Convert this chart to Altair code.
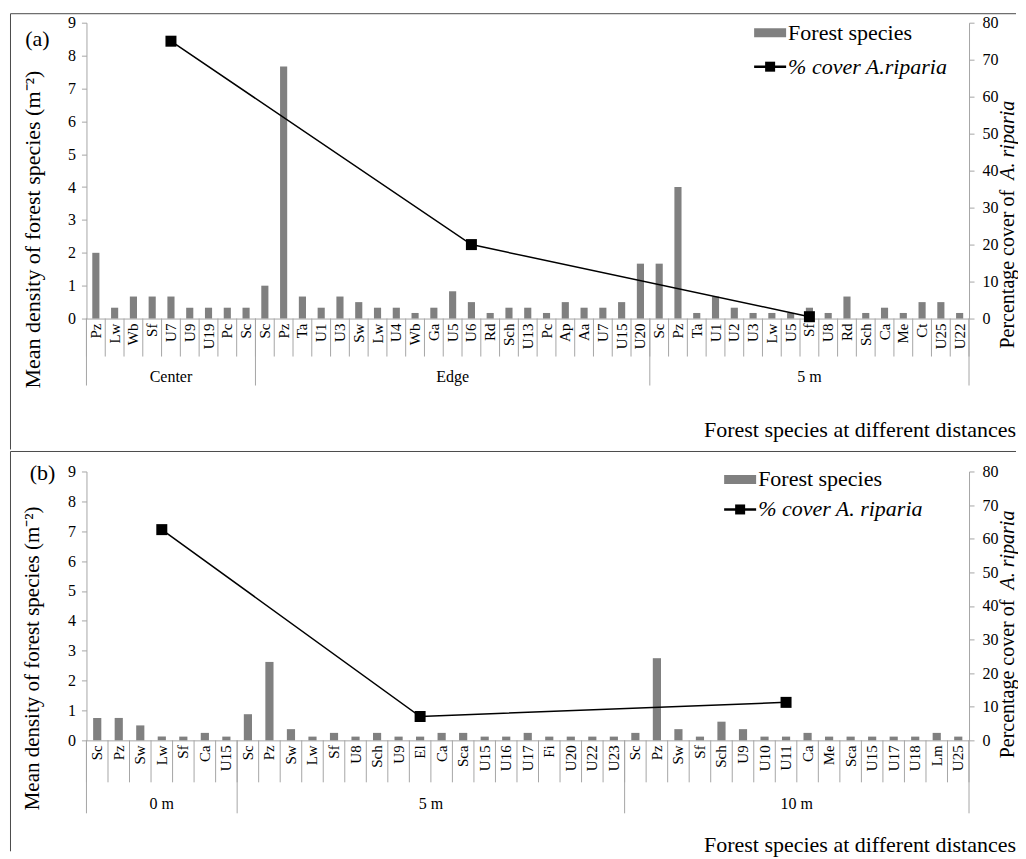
import altair as alt
import pandas as pd

FONT = "Liberation Serif"
BAR = "#808080"
AXG = "#a6a6a6"
BOX = "#4a4a4a"

# ---------------- Panel (a) data ----------------
a_groups = ["Center", "Edge", "5 m"]
a_center_sp = ["Pz", "Lw", "Wb", "Sf", "U7", "U9", "U19", "Pc", "Sc"]
a_center_val = [2.0, 0.33, 0.67, 0.67, 0.67, 0.33, 0.33, 0.33, 0.33]
a_edge_sp = ["Sc", "Pz", "Ta", "U1", "U3", "Sw", "Lw", "U4", "Wb", "Ga", "U5",
             "U6", "Rd", "Sch", "U13", "Pc", "Ap", "Aa", "U7", "U15", "U20"]
a_edge_val = [1.0, 7.67, 0.67, 0.33, 0.67, 0.5, 0.33, 0.33, 0.17, 0.33, 0.83,
              0.5, 0.17, 0.33, 0.33, 0.17, 0.5, 0.33, 0.33, 0.5, 1.67]
a_5m_sp = ["Sc", "Pz", "Ta", "U1", "U2", "U3", "Lw", "U5", "Sf", "U8", "Rd",
           "Sch", "Ca", "Me", "Ct", "U25", "U22"]
a_5m_val = [1.67, 4.0, 0.17, 0.67, 0.33, 0.17, 0.17, 0.17, 0.33, 0.17, 0.67,
            0.17, 0.33, 0.17, 0.5, 0.5, 0.17]
a_cover_sp = ["U7", "U6", "Sf"]
a_cover = [75.0, 20.0, 0.5]

# ---------------- Panel (b) data ----------------
b_groups = ["0 m", "5 m", "10 m"]
b_0m_sp = ["Sc", "Pz", "Sw", "Lw", "Sf", "Ca", "U15"]
b_0m_val = [0.75, 0.75, 0.5, 0.125, 0.125, 0.25, 0.125]
b_5m_sp = ["Sc", "Pz", "Sw", "Lw", "Sf", "U8", "Sch", "U9", "El", "Ca", "Sca",
           "U15", "U16", "U17", "Fi", "U20", "U22", "U23"]
b_5m_val = [0.875, 2.625, 0.375, 0.125, 0.25, 0.125, 0.25, 0.125, 0.125, 0.25,
            0.25, 0.125, 0.125, 0.25, 0.125, 0.125, 0.125, 0.125]
b_10m_sp = ["Sc", "Pz", "Sw", "Sf", "Sch", "U9", "U10", "U11", "Ca", "Me", "Sca",
            "U15", "U17", "U18", "Lm", "U25"]
b_10m_val = [0.25, 2.75, 0.375, 0.125, 0.625, 0.375, 0.125, 0.125, 0.25, 0.125,
             0.125, 0.125, 0.125, 0.125, 0.25, 0.125]
b_cover_sp = ["Lw", "El", "U11"]
b_cover = [62.7, 7.1, 11.3]

y_left_ticks = list(range(0, 10))
y_right_ticks = list(range(0, 81, 10))

X_TITLE = "Forest species at different distances"
Y_TITLE = "Mean density of forest species (m\u207b\u00b2)"

W = 883
DUMMY = pd.DataFrame({"d": [0]})


def dtext(text, x, y, size=22, angle=0, align="center", baseline="middle", italic=False):
    return alt.Chart(DUMMY).mark_text(
        text=text, font=FONT, fontSize=size, angle=angle, align=align,
        baseline=baseline, fontStyle="italic" if italic else "normal", color="black"
    ).encode(x=alt.value(x), y=alt.value(y))


def hrule(x1, x2, y, color=BOX, w=1.0):
    return alt.Chart(DUMMY).mark_rule(color=color, strokeWidth=w).encode(
        x=alt.value(x1), x2=alt.value(x2), y=alt.value(y))


def vrule(x, y1, y2, color=BOX, w=1.0):
    return alt.Chart(DUMMY).mark_rule(color=color, strokeWidth=w).encode(
        x=alt.value(x), y=alt.value(y1), y2=alt.value(y2))


def build_panel(groups, sps, vals, cov_sp, cov, H, c):
    rows, cov_rows, gb, gm = [], [], [0], []
    i = 0
    for g, sl, vl, cs, cv in zip(groups, sps, vals, cov_sp, cov):
        start = i
        for s, v in zip(sl, vl):
            rows.append(dict(sp=s, val=v, base=0.0, x0=i + 0.31, x1=i + 0.69, xm=i + 0.5))
            i += 1
        cov_rows.append(dict(xm=start + sl.index(cs) + 0.5, pct=cv))
        gb.append(i)
        gm.append(dict(gm=(start + i) / 2.0, name=g))
    N = i
    bdf = pd.DataFrame(rows)
    cdf = pd.DataFrame(cov_rows)
    sdf = pd.DataFrame({"b": list(range(N + 1))})
    gbdf = pd.DataFrame({"gb": gb})
    gmdf = pd.DataFrame(gm)

    xs = alt.Scale(domain=[0, N], nice=False, zero=False)
    xa = alt.Axis(labels=False, ticks=False, grid=False, domain=True,
                  domainColor=AXG, title=None)

    bars = alt.Chart(bdf).mark_bar(color=BAR).encode(
        x=alt.X("x0:Q", scale=xs, axis=xa), x2="x1:Q",
        y=alt.Y("val:Q", scale=alt.Scale(domain=[0, 9], nice=False),
                axis=alt.Axis(orient="left", values=y_left_ticks, title=None, grid=False,
                              tickSize=5, tickColor=AXG, domainColor=AXG, labelPadding=6,
                              labelFont=FONT, labelFontSize=16, labelColor="black")),
        y2="base:Q")

    yr = alt.Y("pct:Q", scale=alt.Scale(domain=[0, 80], nice=False),
               axis=alt.Axis(orient="right", values=y_right_ticks, title=None, grid=False,
                             tickSize=5, tickColor=AXG, domainColor=AXG, labelPadding=8,
                             labelFont=FONT, labelFontSize=16, labelColor="black"))
    line = alt.Chart(cdf).mark_line(color="black", strokeWidth=1.5).encode(
        x=alt.X("xm:Q", scale=xs, axis=xa), y=yr)
    pts = alt.Chart(cdf).mark_point(shape="square", filled=True, size=121,
                                    color="black", opacity=1).encode(
        x=alt.X("xm:Q", scale=xs, axis=xa), y=yr)
    cover_layer = alt.layer(line, pts)

    labels = alt.Chart(bdf).mark_text(angle=270, align="right", baseline="middle",
                                      font=FONT, fontSize=15, color="black").encode(
        x=alt.X("xm:Q", scale=xs, axis=xa), y=alt.value(H + 5), text="sp:N")
    seps = alt.Chart(sdf).mark_rule(color=AXG).encode(
        x=alt.X("b:Q", scale=xs, axis=xa), y=alt.value(H), y2=alt.value(H + c["sep"]))
    gseps = alt.Chart(gbdf).mark_rule(color=AXG).encode(
        x=alt.X("gb:Q", scale=xs, axis=xa), y=alt.value(H), y2=alt.value(H + c["gsep"]))
    glabels = alt.Chart(gmdf).mark_text(font=FONT, fontSize=16, color="black",
                                        baseline="middle").encode(
        x=alt.X("gm:Q", scale=xs, axis=xa), y=alt.value(H + c["glab"]), text="name:N")

    deco = []
    if "top" in c:
        deco.append(hrule(-76, 930, c["top"]))
    deco.append(vrule(-76, c["left_y1"], c["left_y2"]))
    deco.append(dtext(c["tag"], c["tag_x"], c["tag_y"]))
    deco.append(dtext(Y_TITLE, -53, c["ytitle_y"], size=c["ytsize"], angle=270))
    deco.append(dtext(X_TITLE, 930, c["xtitle_y"], align="right"))
    deco.append(dtext("Percentage cover of", 922, c["rt_y"], size=20, angle=270, align="left"))
    deco.append(dtext("A. riparia", 922, c["rt_y"] - 169, size=20, angle=270, align="left",
                      italic=True))
    lx = c["leg_x"]
    r1, r2 = c["leg_y1"], c["leg_y2"]
    deco.append(alt.Chart(DUMMY).mark_rect(color=BAR).encode(
        x=alt.value(lx), x2=alt.value(lx + 32), y=alt.value(r1 - 4.5), y2=alt.value(r1 + 4.5)))
    deco.append(dtext("Forest species", lx + 34, r1, align="left"))
    deco.append(hrule(lx, lx + 32, r2, color="black", w=2.5))
    deco.append(alt.Chart(DUMMY).mark_point(shape="square", filled=True, size=100,
                                            color="black", opacity=1).encode(
        x=alt.value(lx + 16), y=alt.value(r2)))
    deco.append(dtext(c["leg_text"], lx + 34, r2, align="left", italic=True))

    return alt.layer(bars, cover_layer, labels, seps, gseps, glabels, *deco).resolve_scale(
        y="independent").properties(width=W, height=H)


cfg_a = dict(sep=38, gsep=67, glab=58, top=-9, left_y1=-9, left_y2=427,
             tag="(a)", tag_x=-49, tag_y=16, ytitle_y=207, ytsize=22, xtitle_y=408,
             rt_y=326, leg_x=668, leg_y1=10, leg_y2=44, leg_text="% cover A.riparia")
cfg_b = dict(sep=42, gsep=73, glab=64, left_y1=-20, left_y2=380,
             tag="(b)", tag_x=-44, tag_y=2, ytitle_y=187, ytsize=21, xtitle_y=374,
             rt_y=287, leg_x=638, leg_y1=8, leg_y2=38, leg_text="% cover A. riparia")

pa = build_panel(a_groups, [a_center_sp, a_edge_sp, a_5m_sp],
                 [a_center_val, a_edge_val, a_5m_val], a_cover_sp, a_cover, 296, cfg_a)
pb_core = build_panel(b_groups, [b_0m_sp, b_5m_sp, b_10m_sp],
                      [b_0m_val, b_5m_val, b_10m_val], b_cover_sp, b_cover, 269, cfg_b)
pb = alt.layer(pb_core, hrule(-76, 930, -20)).properties(width=W, height=269)

chart = alt.vconcat(pa, pb, spacing=0).configure(font=FONT).configure_view(
    stroke=None).configure_axis(
    labelFont=FONT, labelFontSize=16, labelColor="black").properties(
    padding={"left": 1.5, "top": 4.5, "right": 0, "bottom": 0})

chart.save("out.html", embed_options={"renderer": "svg", "actions": False})
